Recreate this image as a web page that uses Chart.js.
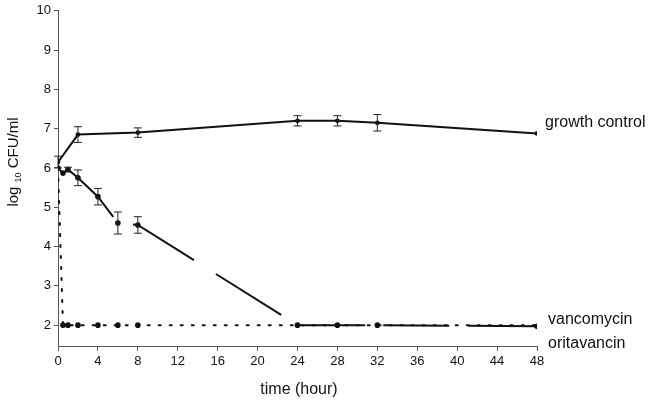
<!DOCTYPE html>
<html>
<head>
<meta charset="utf-8">
<script src="https://cdn.jsdelivr.net/npm/chart.js@4/dist/chart.umd.min.js"></script>
<style>
  html, body { margin: 0; padding: 0; background: #fff; }
  #wrap { width: 651px; height: 402px; position: relative; }
</style>
</head>
<body>
<div id="wrap"><canvas id="killChart"></canvas></div>
<script>
// time-kill data
const growthTimes = [0, 2, 8, 24, 28, 32, 48];
const growthValues = [6.15, 6.85, 6.9, 7.2, 7.2, 7.15, 6.88];
const growthErr = [0.15, 0.2, 0.12, 0.13, 0.13, 0.21, 0];

const vancoTimes = [0, 0.5, 1, 2, 4, 6, 8, 24, 28, 32, 48];
const vancoValues = [6.0, 5.87, 5.96, 5.75, 5.27, 4.6, 4.55, 2.0, 2.0, 2.0, 1.97];
const vancoErr = [0, 0, 0.06, 0.2, 0.21, 0.28, 0.21, 0, 0, 0, 0];

const oritaTimes = [0, 0.5, 1, 2, 4, 6, 8, 24, 28, 32, 48];
const oritaValues = [6.0, 2, 2, 2, 2, 2, 2, 2, 2, 2, 2];

const seriesLabels = ["growth control", "vancomycin", "oritavancin"];
const xTicks = [0, 4, 8, 12, 16, 20, 24, 28, 32, 36, 40, 44, 48];
const yTicks = [2, 3, 4, 5, 6, 7, 8, 9, 10];

const toPoints = (xs, ys) => xs.map((x, i) => ({ x: x, y: ys[i] }));

const FONT = "'Liberation Sans', Arial, sans-serif";

// error bars + end labels + y title with subscript
const extras = {
  id: "extras",
  afterDatasetsDraw(chart) {
    const ctx = chart.ctx;
    const xs = chart.scales.x, ys = chart.scales.y;
    ctx.save();
    ctx.strokeStyle = "#222";
    ctx.lineWidth = 1;
    const bars = [[growthTimes, growthValues, growthErr], [vancoTimes, vancoValues, vancoErr]];
    bars.forEach(([t, v, e]) => {
      t.forEach((tt, i) => {
        if (!e[i]) return;
        const px = xs.getPixelForValue(tt);
        const top = ys.getPixelForValue(v[i] + e[i]);
        const bot = ys.getPixelForValue(v[i] - e[i]);
        ctx.beginPath();
        ctx.moveTo(px, top); ctx.lineTo(px, bot);
        ctx.moveTo(px - 4, top); ctx.lineTo(px + 4, top);
        ctx.moveTo(px - 4, bot); ctx.lineTo(px + 4, bot);
        ctx.stroke();
      });
    });

    ctx.fillStyle = "#111";
    ctx.font = "16px " + FONT;
    ctx.textBaseline = "middle";
    ctx.textAlign = "left";
    ctx.fillText(seriesLabels[0], 545, 123);
    ctx.fillText(seriesLabels[1], 548, 320);
    ctx.fillText(seriesLabels[2], 548, 344);

    // x title
    ctx.textAlign = "center";
    ctx.fillText("time (hour)", 299, 390);

    // y title: log 10 CFU/ml, 10 as subscript
    ctx.translate(13, 162);
    ctx.rotate(-Math.PI / 2);
    ctx.textAlign = "left";
    ctx.textBaseline = "alphabetic";
    const big = "15px " + FONT, small = "9px " + FONT;
    ctx.font = big;
    const w1 = ctx.measureText("log ").width;
    const w3 = ctx.measureText(" CFU/ml").width;
    ctx.font = small;
    const w2 = ctx.measureText("10").width;
    let x0 = -(w1 + w2 + w3) / 2;
    ctx.font = big;
    ctx.fillText("log ", x0, 5);
    ctx.font = small;
    ctx.fillText("10", x0 + w1, 8);
    ctx.font = big;
    ctx.fillText(" CFU/ml", x0 + w1 + w2, 5);
    ctx.restore();
  }
};

new Chart(document.getElementById("killChart"), {
  type: "scatter",
  data: {
    datasets: [
      {
        label: seriesLabels[2],
        data: toPoints(oritaTimes, oritaValues),
        showLine: true,
        borderColor: "#111",
        backgroundColor: "#111",
        borderWidth: 2,
        borderDash: [2, 9],
        borderCapStyle: "round",
        pointRadius: [0, 2.8, 2.8, 2.8, 2.8, 2.8, 2.8, 0, 0, 0, 0],
        pointBorderWidth: 0,
        tension: 0
      },
      {
        label: seriesLabels[1],
        data: toPoints(vancoTimes, vancoValues),
        showLine: true,
        borderColor: "#111",
        backgroundColor: "#111",
        borderWidth: 2,
        // uneven long dashes as in the original plot
        borderDash: [79, 23, 71, 26, 77, 21, 66, 18, 66, 19, 90, 10],
        pointRadius: 2.8,
        pointBorderWidth: 0,
        tension: 0
      },
      {
        label: seriesLabels[0],
        data: toPoints(growthTimes, growthValues),
        showLine: true,
        borderColor: "#111",
        backgroundColor: "#111",
        borderWidth: 2,
        pointRadius: 2.4,
        pointBorderWidth: 0,
        tension: 0
      }
    ]
  },
  options: {
    responsive: true,
    maintainAspectRatio: false,
    animation: false,
    layout: { padding: { left: 0, right: 114, top: 7, bottom: 0 } },
    plugins: { legend: { display: false }, tooltip: { enabled: false } },
    scales: {
      x: {
        type: "linear",
        min: 0,
        max: 48,
        afterFit: (s) => { s.height = 56; },
        afterBuildTicks: (s) => { s.ticks = xTicks.map((v) => ({ value: v })); },
        grid: { drawOnChartArea: false, drawTicks: true, tickLength: 5, color: "#555" },
        border: { color: "#555", width: 1 },
        ticks: { color: "#111", padding: 3, maxRotation: 0, font: { family: FONT, size: 13 } }
      },
      y: {
        type: "linear",
        min: 1.47,
        max: 10,
        afterFit: (s) => { s.width = 58; },
        afterBuildTicks: (s) => { s.ticks = yTicks.map((v) => ({ value: v })); },
        grid: { drawOnChartArea: false, drawTicks: true, tickLength: 4, color: "#555" },
        border: { color: "#555", width: 1 },
        ticks: { color: "#111", padding: 3, font: { family: FONT, size: 13 } }
      }
    }
  },
  plugins: [extras]
});
</script>
</body>
</html>
